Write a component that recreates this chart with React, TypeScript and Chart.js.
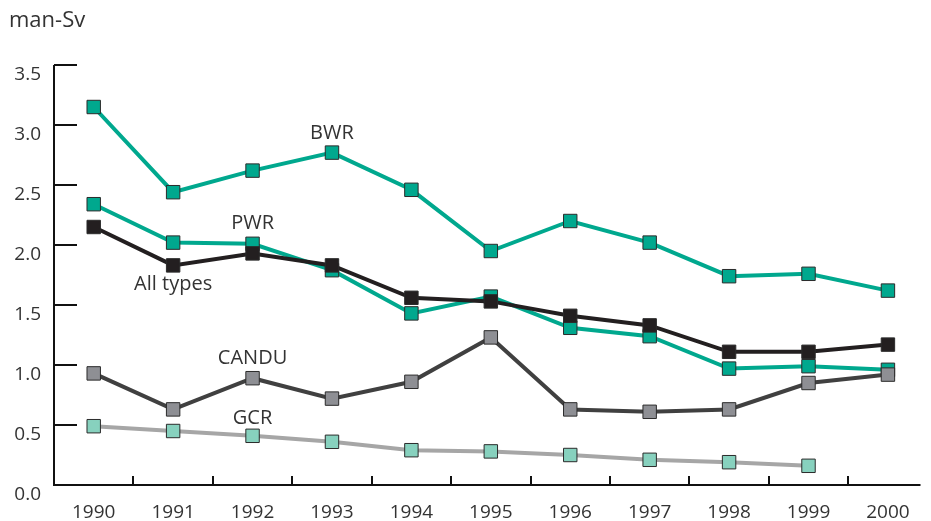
import React, { useEffect, useRef } from "react";
import { Chart, registerables } from "chart.js";

Chart.register(...registerables);

const years = [1990, 1991, 1992, 1993, 1994, 1995, 1996, 1997, 1998, 1999, 2000];
const bwr = [3.15, 2.44, 2.62, 2.77, 2.46, 1.95, 2.2, 2.02, 1.74, 1.76, 1.62];
const pwr = [2.34, 2.02, 2.01, 1.79, 1.43, 1.57, 1.31, 1.24, 0.97, 0.99, 0.96];
const allTypes = [2.15, 1.83, 1.93, 1.83, 1.56, 1.53, 1.41, 1.33, 1.11, 1.11, 1.17];
const candu = [0.93, 0.63, 0.89, 0.72, 0.86, 1.23, 0.63, 0.61, 0.63, 0.85, 0.92];
const gcr = [0.49, 0.45, 0.41, 0.36, 0.29, 0.28, 0.25, 0.21, 0.19, 0.16, null];
const yTicks = [0, 0.5, 1.0, 1.5, 2.0, 2.5, 3.0, 3.5];
const boundaries = [1990.5, 1991.5, 1992.5, 1993.5, 1994.5, 1995.5, 1996.5, 1997.5, 1998.5, 1999.5];

const seriesLabels = [
  { text: "BWR", x: 1993, y: 2.93 },
  { text: "PWR", x: 1992, y: 2.18 },
  { text: "All types", x: 1991, y: 1.675 },
  { text: "CANDU", x: 1992, y: 1.06 },
  { text: "GCR", x: 1992, y: 0.56 },
];

const FONT = "'Open Sans', 'DejaVu Sans', sans-serif";

function pts(vals: (number | null)[]) {
  return years
    .map((yr, i) => ({ x: yr, y: vals[i] }))
    .filter((p) => p.y !== null) as { x: number; y: number }[];
}

const axesPlugin = {
  id: "customAxes",
  beforeDatasetsDraw(chart: any) {
    const { ctx, chartArea, scales } = chart;
    const xs = scales.x;
    const ys = scales.y;
    const x0 = chartArea.left;
    const y0 = ys.getPixelForValue(0);
    const yTop = ys.getPixelForValue(3.5);
    ctx.save();
    ctx.strokeStyle = "#111";
    ctx.lineWidth = 2;
    ctx.beginPath();
    ctx.moveTo(x0, yTop);
    ctx.lineTo(x0, y0);
    ctx.lineTo(chartArea.right, y0);
    ctx.stroke();
    ctx.beginPath();
    for (const v of yTicks) {
      const py = Math.round(ys.getPixelForValue(v));
      ctx.moveTo(x0, py);
      ctx.lineTo(x0 + 23, py);
    }
    for (const v of boundaries) {
      const px = Math.round(xs.getPixelForValue(v));
      ctx.moveTo(px, y0);
      ctx.lineTo(px, y0 - 9);
    }
    ctx.stroke();
    ctx.restore();
  },
  afterDraw(chart: any) {
    const { ctx, scales } = chart;
    ctx.save();
    ctx.fillStyle = "#333";
    ctx.textBaseline = "middle";
    ctx.textAlign = "left";
    ctx.font = `22px ${FONT}`;
    ctx.fillText("man-Sv", 9, 21);
    ctx.textAlign = "center";
    ctx.font = `20px ${FONT}`;
    for (const l of seriesLabels) {
      ctx.fillText(l.text, scales.x.getPixelForValue(l.x), scales.y.getPixelForValue(l.y));
    }
    ctx.restore();
  },
};

export default function App() {
  const ref = useRef<HTMLCanvasElement>(null);
  useEffect(() => {
    const common = {
      borderWidth: 4,
      pointStyle: "rect",
      pointRadius: 9.5,
      pointBorderWidth: 1,
      pointBorderColor: "#2b2b2b",
      tension: 0,
      clip: false as any,
    };
    const chart = new Chart(ref.current!, {
      type: "line",
      data: {
        datasets: [
          { ...common, label: "All types", data: pts(allTypes), borderColor: "#231F20", pointBackgroundColor: "#231F20", order: 1 },
          { ...common, label: "CANDU", data: pts(candu), borderColor: "#404040", pointBackgroundColor: "#8E8F94", order: 2 },
          { ...common, label: "BWR", data: pts(bwr), borderColor: "#00A88E", pointBackgroundColor: "#00A88E", order: 3 },
          { ...common, label: "PWR", data: pts(pwr), borderColor: "#00A88E", pointBackgroundColor: "#00A88E", order: 4 },
          { ...common, label: "GCR", data: pts(gcr), borderColor: "#A6A6A6", pointBackgroundColor: "#87D1BE", order: 5 },
        ] as any,
      },
      options: {
        responsive: false,
        animation: false,
        devicePixelRatio: 1,
        layout: { padding: { top: 65, left: 0, right: 0, bottom: 0 } },
        plugins: { legend: { display: false }, tooltip: { enabled: false } },
        scales: {
          x: {
            type: "linear",
            min: 1989.5,
            max: 2000.41,
            grid: { display: false, drawTicks: false },
            border: { display: false },
            afterBuildTicks: (scale: any) => {
              scale.ticks = years.map((v) => ({ value: v }));
            },
            afterFit: (scale: any) => {
              scale.height = 36;
            },
            ticks: {
              autoSkip: false,
              maxRotation: 0,
              padding: 16,
              color: "#333",
              font: { family: FONT, size: 19 },
              callback: (v: any) => String(v),
            },
          },
          y: {
            type: "linear",
            min: 0,
            max: 3.5,
            grid: { display: false, drawTicks: false },
            border: { display: false },
            afterBuildTicks: (scale: any) => {
              scale.ticks = yTicks.map((v) => ({ value: v }));
            },
            afterFit: (scale: any) => {
              scale.width = 54;
            },
            ticks: {
              padding: 13,
              labelOffset: 10,
              color: "#333",
              font: { family: FONT, size: 19 },
              callback: (v: any) => Number(v).toFixed(1),
            },
          },
        },
      } as any,
      plugins: [axesPlugin],
    });
    return () => chart.destroy();
  }, []);
  return (
    <div style={{ position: "fixed", left: 0, top: 0, width: 931, height: 521, background: "#fff" }}>
      <canvas ref={ref} width={931} height={521} style={{ display: "block" }} />
    </div>
  );
}
